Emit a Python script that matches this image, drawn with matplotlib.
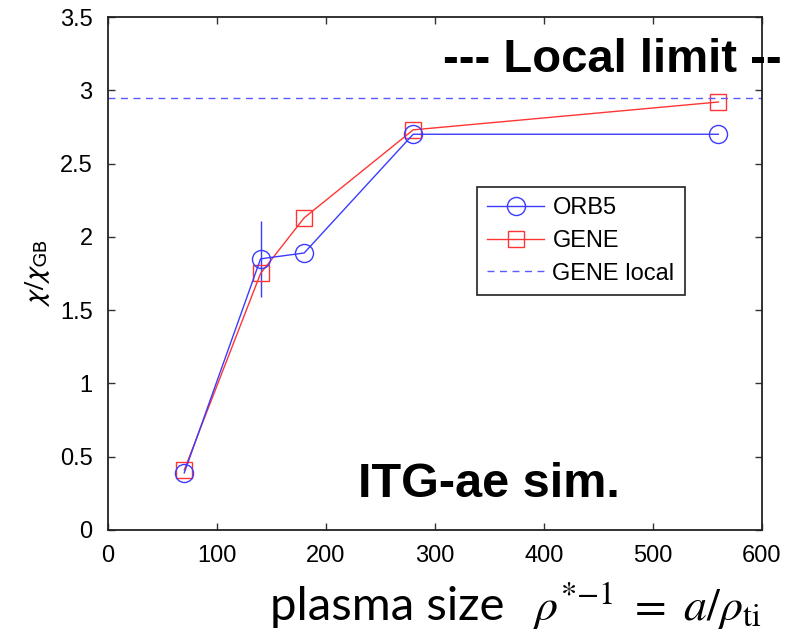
import matplotlib
matplotlib.use("Agg")
import matplotlib.pyplot as plt

# transport vs. plasma size, global codes against the local limit
rho_inv = [70, 140, 180, 280, 560]
chi_orb5 = [0.39, 1.85, 1.89, 2.70, 2.70]
chi_orb5_err = [0.0, 0.26, 0.0, 0.0, 0.0]
chi_gene = [0.41, 1.75, 2.13, 2.73, 2.92]
chi_local = 2.95

xticks = [0, 100, 200, 300, 400, 500, 600]
yticks = [0, 0.5, 1, 1.5, 2, 2.5, 3, 3.5]
ytick_labels = ['0', '0.5', '1', '1.5', '2', '2.5', '3', '3.5']

plt.rcParams['font.family'] = ['Liberation Sans', 'DejaVu Sans']

fig = plt.figure(figsize=(7.87, 6.32), dpi=100)
ax = fig.add_axes([0.1372, 0.1614, 0.8310, 0.8117])

blue = '#3b3bff'
red = '#ff3535'

eb = ax.errorbar(rho_inv, chi_orb5, yerr=chi_orb5_err, color=blue, lw=1.0,
                 marker='o', ms=13, mfc='none', mec=blue, mew=1.0,
                 elinewidth=1.0, capsize=0)
gene_line, = ax.plot(rho_inv, chi_gene, color=red, lw=1.0, marker='s',
                     ms=11, mfc='none', mec=red, mew=1.0)
local_line = ax.axhline(chi_local, color='#5a5aff', lw=1.0, ls=(0, (5, 4)))

ax.set_xlim(0, 600)
ax.set_ylim(0, 3.5)
ax.set_xticks(xticks)
ax.set_xticklabels([str(v) for v in xticks])
ax.set_yticks(yticks)
ax.set_yticklabels(ytick_labels)
ax.tick_params(direction='in', length=5, width=1.0, top=True, right=True,
               labelsize=17, pad=11, color='#333333')
for s in ax.spines.values():
    s.set_linewidth(1.3)
    s.set_color('#222222')

ax.set_ylabel(r'$\chi/\chi_{\rm GB}$', fontsize=21, labelpad=6,
              math_fontfamily='stixsans')

leg = ax.legend(handles=[eb.lines[0], gene_line, local_line],
                labels=['ORB5', 'GENE', 'GENE local'],
                loc='upper left', bbox_to_anchor=(0.564, 0.669),
                borderaxespad=0, fontsize=17, fancybox=False, framealpha=1,
                edgecolor='#222222', handlelength=2.4, handletextpad=0.35,
                labelspacing=0.45, borderpad=0.45)
leg.get_frame().set_linewidth(1.2)

fig.text(443 / 787, 1 - 72 / 632, '--- Local limit --', fontsize=34,
         fontweight='bold', va='baseline', ha='left')
fig.text(358 / 787, 1 - 497 / 632, 'ITG-ae sim.', fontsize=35,
         fontweight='bold', va='baseline', ha='left')

# axis label drawn in two pieces: plain words, then the formula
fig.text(270 / 787, 1 - 620 / 632, 'plasma size', fontsize=34,
         family=['Lato', 'DejaVu Sans'], fontweight='normal',
         va='baseline', ha='left')
fig.text(533 / 787, 1 - 620 / 632, r'$\rho^{*{-1}}\ =\ a/\rho_{\rm ti}$',
         fontsize=33, math_fontfamily='stix', va='baseline', ha='left')

fig.savefig('out.png', dpi=100)
